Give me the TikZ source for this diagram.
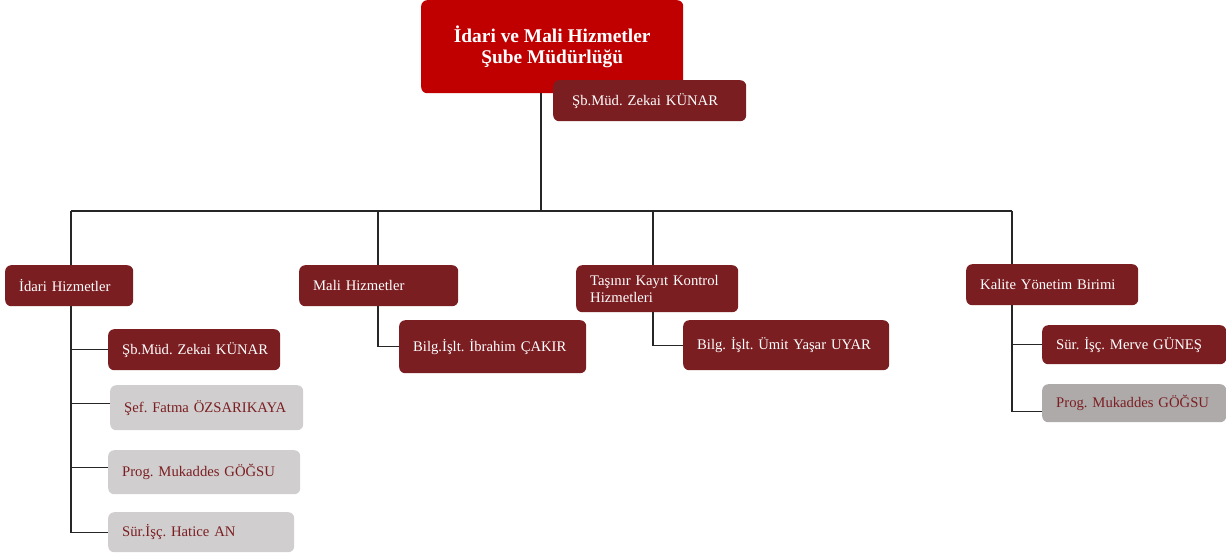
\documentclass[tikz,border=0pt]{standalone}
\usepackage{fontspec}
\setmainfont{Liberation Serif}
\definecolor{topred}{HTML}{C00000}
\definecolor{dkred}{HTML}{7B1E22}
\definecolor{lgray}{HTML}{D0CECE}
\definecolor{mgray}{HTML}{AEAAAA}
\tikzset{
  box/.style={anchor=north west, rounded corners=6pt, inner xsep=14pt, inner ysep=0pt,
    align=left, font=\fontsize{14.67}{16.7}\selectfont\frenchspacing},
  dk/.style={box, fill=dkred, text=white},
  gr/.style={box, fill=lgray, text=dkred},
  grb/.style={box, fill=mgray, text=dkred},
  conn/.style={line width=1.1pt, draw=black!85},
}
\begin{document}
\begin{tikzpicture}[x=1pt,y=-1pt]
\useasboundingbox (0,0) rectangle (1226,558);
% top
\node[anchor=north west, rounded corners=6pt, fill=topred, text=white, inner sep=0pt,
  minimum width=262pt, minimum height=93pt, align=center,
  font=\bfseries\fontsize{19.4}{21.6}\selectfont] (top) at (421,0)
  {İdari ve Mali Hizmetler\\Şube Müdürlüğü};
\coordinate (jt) at (541,211);
\coordinate (j1) at (71,211);
\coordinate (j2) at (378,211);
\coordinate (j3) at (653,211);
\coordinate (j4) at (1012,211);
\draw[conn] (top.south -| jt) -- (jt);
\node[dk, inner xsep=19pt, text width=155pt, minimum height=41pt] (sub) at (553,80) {Şb.Müd. Zekai KÜNAR};
\draw[conn] (j1) -- (j4);
% level 2
\node[dk, text width=100pt, minimum height=41pt] (idari) at (5,265) {İdari Hizmetler};
\node[dk, text width=131pt, minimum height=41pt] (mali) at (299,265) {Mali Hizmetler};
\node[dk, text width=134pt, minimum height=47pt] (tasinir) at (576,265) {Taşınır Kayıt Kontrol\\Hizmetleri};
\node[dk, text width=144pt, minimum height=41pt] (kalite) at (966,264) {Kalite Yönetim Birimi};
\draw[conn] (j1) -- (j1 |- idari.north);
\draw[conn] (j2) -- (j2 |- mali.north);
\draw[conn] (j3) -- (j3 |- tasinir.north);
\draw[conn] (j4) -- (j4 |- kalite.north);
% level 3
\node[dk, text width=144pt, minimum height=41pt] (i1) at (108,329) {\mbox{Şb.Müd. Zekai KÜNAR}};
\node[gr, text width=165pt, minimum height=45pt] (i2) at (110,385) {Şef. Fatma ÖZSARIKAYA};
\node[gr, text width=164pt, minimum height=44pt] (i3) at (108,450) {Prog. Mukaddes GÖĞSU};
\node[gr, text width=158pt, minimum height=40pt] (i4) at (108,512) {Sür.İşç. Hatice AN};
\node[dk, text width=159pt, minimum height=53pt] (m1) at (399,320) {Bilg.İşlt. İbrahim ÇAKIR};
\node[dk, text width=178pt, minimum height=50pt] (t1) at (683,320) {Bilg. İşlt. Ümit Yaşar UYAR};
\node[dk, text width=156pt, minimum height=39pt] (k1) at (1042,325) {Sür. İşç. Merve GÜNEŞ};
\node[grb, text width=156pt, minimum height=38pt] (k2) at (1042,384) {Prog. Mukaddes GÖĞSU};
% branch points
\coordinate (p2) at ([yshift=4.5pt]i2.west);
\coordinate (p3) at ([yshift=5pt]i3.west);
\coordinate (pk2) at ([yshift=-8pt]k2.west);
% connectors
\draw[conn] (idari.south -| j1) -- (j1 |- i4.west) -- (i4.west);
\draw[conn] (j1 |- i1.west) -- (i1.west);
\draw[conn] (j1 |- p2) -- (p2);
\draw[conn] (j1 |- p3) -- (p3);
\draw[conn] (mali.south -| j2) -- (j2 |- m1.west) -- (m1.west);
\draw[conn] (tasinir.south -| j3) -- (j3 |- t1.west) -- (t1.west);
\draw[conn] (kalite.south -| j4) -- (j4 |- pk2) -- (pk2);
\draw[conn] (j4 |- k1.west) -- (k1.west);
\end{tikzpicture}
\end{document}
